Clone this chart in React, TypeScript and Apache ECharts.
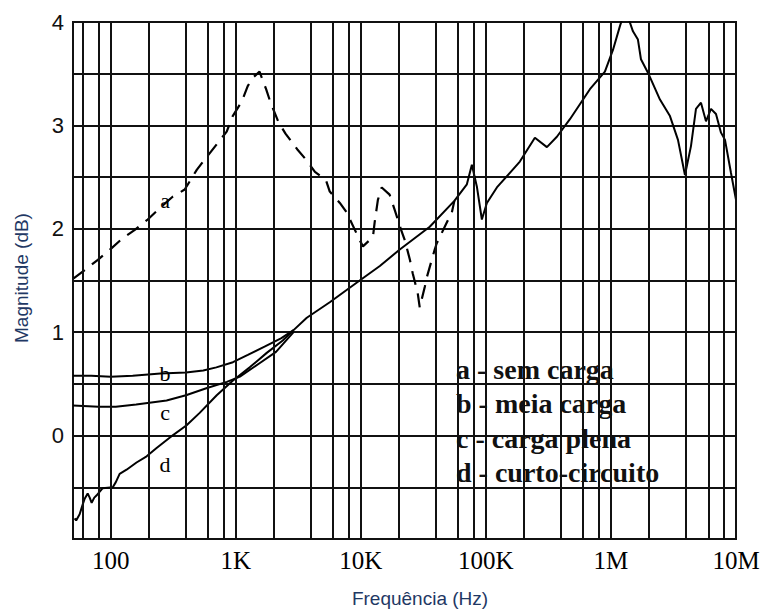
import React, { useEffect, useRef } from 'react';
import * as echarts from 'echarts';

// Curve a - sem carga (dashed)
const freqA = [50.6, 62, 79, 95, 125, 156, 198, 247, 313, 391, 488, 565, 718, 847, 946, 1117, 1247, 1368, 1550, 1750, 1900, 2200, 2500, 3100, 3700, 4300, 4900, 5300, 5650, 6800, 7700, 9800, 10400, 12500, 12900, 13700, 14700, 17000, 18700, 21000, 22500, 24700, 26000, 28500, 29600, 32500, 33700, 39000, 40500, 48700, 53500, 56000];
const magA = [1.52, 1.6, 1.7, 1.78, 1.91, 1.99, 2.09, 2.2, 2.31, 2.38, 2.57, 2.67, 2.83, 2.94, 3.09, 3.23, 3.38, 3.46, 3.52, 3.35, 3.22, 3.03, 2.92, 2.77, 2.66, 2.55, 2.5, 2.46, 2.36, 2.25, 2.16, 1.89, 1.83, 1.92, 2.06, 2.28, 2.4, 2.33, 2.18, 1.99, 1.89, 1.7, 1.57, 1.38, 1.24, 1.44, 1.53, 1.8, 1.86, 2.06, 2.16, 2.27];

// Curve b - meia carga
const freqB = [50, 70, 100, 150, 250, 400, 550, 700, 950, 1250, 1700, 2300, 2900];
const magB = [0.58, 0.58, 0.57, 0.58, 0.6, 0.61, 0.63, 0.66, 0.71, 0.78, 0.86, 0.94, 1.02];

// Curve c - carga plena
const freqC = [50, 80, 110, 160, 280, 400, 590, 850, 1080, 1550, 2100, 2900];
const magC = [0.29, 0.28, 0.28, 0.3, 0.34, 0.39, 0.46, 0.52, 0.57, 0.7, 0.81, 1.0];

// Curve d - curto-circuito (continues as the common curve up to 10M)
const freqD = [51.5, 53, 56.5, 60, 62, 65.5, 68, 70.5, 74, 77, 86, 104, 110, 118, 134, 161, 194, 233, 296, 405, 515, 705, 946, 1294, 1770, 2377, 2900, 3700, 5650, 9800, 14200, 20500, 35600, 56000, 70500, 77300, 84700, 92900, 101900, 122500, 187000, 246600, 307600, 369800, 470000, 679000, 895000, 1038000, 1180000, 1247000, 1368000, 1500000, 1644000, 1738000, 1977000, 2466000, 2965000, 3436000, 3908000, 4365000, 4786000, 5248000, 5754000, 6310000, 6918000, 7586000, 8166000, 9120000, 10000000];
const magD = [-0.8, -0.82, -0.76, -0.66, -0.61, -0.56, -0.6, -0.65, -0.6, -0.58, -0.51, -0.5, -0.45, -0.37, -0.33, -0.26, -0.2, -0.12, -0.02, 0.1, 0.22, 0.39, 0.53, 0.66, 0.8, 0.92, 1.02, 1.14, 1.29, 1.5, 1.64, 1.8, 2.02, 2.27, 2.43, 2.62, 2.41, 2.09, 2.25, 2.4, 2.65, 2.88, 2.79, 2.89, 3.06, 3.35, 3.52, 3.73, 3.96, 4.05, 4.05, 3.91, 3.83, 3.64, 3.51, 3.25, 3.09, 2.86, 2.52, 2.8, 3.16, 3.22, 3.04, 3.16, 3.11, 2.93, 2.86, 2.54, 2.28];

// Vertical grid lines (2, 4, 6, 8 x each decade and decades)
const gridFreqs = [60, 80, 100, 200, 400, 600, 800, 1e3, 2e3, 4e3, 6e3, 8e3, 1e4, 2e4, 4e4, 6e4, 8e4, 1e5, 2e5, 4e5, 6e5, 8e5, 1e6, 2e6, 4e6, 6e6, 8e6, 1e7];

const xTickValues = [100, 1e3, 1e4, 1e5, 1e6, 1e7];
const xTickLabels = ['100', '1K', '10K', '100K', '1M', '10M'];
const yTickValues = [0, 1, 2, 3, 4];

const legendLines = ['a - sem carga', 'b - meia carga', 'c - carga plena', 'd - curto-circuito'];
const curveLetters = ['a', 'b', 'c', 'd'];

const zip = (f: number[], m: number[]) => f.map((v, i) => [v, m[i]]);

export default function App() {
  const ref = useRef<HTMLDivElement>(null);
  useEffect(() => {
    document.body.style.margin = '0';
    const chart = echarts.init(ref.current!, null, { renderer: 'svg' });
    const curveStyle = { color: '#000', width: 2 };
    const letterPos = [[165, 200], [165, 373], [165, 412], [165, 464]];
    chart.setOption({
      animation: false,
      backgroundColor: '#fff',
      grid: {
        left: 73, top: 22, right: 30, bottom: 70,
        show: true, borderColor: '#111', borderWidth: 2,
        containLabel: false, outerBoundsMode: 'none',
      },
      xAxis: {
        type: 'log', logBase: 10, min: 50, max: 1e7,
        axisLine: { show: true, lineStyle: { color: '#111', width: 2 } },
        axisTick: { show: true, length: 5, lineStyle: { color: '#111', width: 2 } },
        splitLine: { show: false },
        axisLabel: {
          show: true, margin: 9, showMaxLabel: true, showMinLabel: true,
          color: '#000', fontFamily: 'Liberation Serif', fontSize: 25,
          formatter: (v: number) => {
            const i = xTickValues.findIndex(t => Math.abs(Math.log10(v) - Math.log10(t)) < 1e-6);
            return i >= 0 ? xTickLabels[i] : '';
          },
        },
      },
      yAxis: {
        type: 'value', min: -1, max: 4, interval: 0.5,
        axisLine: { show: false },
        axisTick: { show: false },
        splitLine: { show: true, lineStyle: { color: '#111', width: 2 } },
        axisLabel: {
          margin: 9, color: '#111', fontFamily: 'Liberation Sans', fontSize: 22,
          formatter: (v: number) => (yTickValues.includes(v) ? String(v) : ''),
        },
      },
      series: [
        {
          type: 'line', name: 'a', data: zip(freqA, magA), showSymbol: false,
          lineStyle: { color: '#000', width: 2.2, type: [14, 9] },
          markLine: {
            silent: true, symbol: 'none', label: { show: false },
            lineStyle: { color: '#111', width: 2, type: 'solid' },
            data: gridFreqs.map(f => ({ xAxis: f })),
          },
        },
        { type: 'line', name: 'b', data: zip(freqB, magB), showSymbol: false, lineStyle: curveStyle },
        { type: 'line', name: 'c', data: zip(freqC, magC), showSymbol: false, lineStyle: curveStyle },
        { type: 'line', name: 'd', data: zip(freqD, magD), showSymbol: false, lineStyle: curveStyle },
      ],
      graphic: [
        {
          type: 'text', x: 21, y: 278, rotation: Math.PI / 2,
          style: { text: 'Magnitude (dB)', fill: '#1F3864', font: '19px "Liberation Sans"', align: 'center', verticalAlign: 'middle' },
        },
        {
          type: 'text', x: 420, y: 598,
          style: { text: 'Frequência (Hz)', fill: '#1F3864', font: '19px "Liberation Sans"', align: 'center', verticalAlign: 'middle' },
        },
        ...legendLines.map((t, i) => ({
          type: 'text', x: 456, y: 369 + i * 34.5,
          style: { text: t, fill: '#111', font: 'bold 28px "Liberation Serif"', align: 'left', verticalAlign: 'middle' },
        })),
        ...curveLetters.map((t, i) => ({
          type: 'text', x: letterPos[i][0], y: letterPos[i][1],
          style: { text: t, fill: '#000', font: '22px "Liberation Serif"', align: 'center', verticalAlign: 'middle' },
        })),
      ],
    });
    return () => chart.dispose();
  }, []);
  return <div ref={ref} style={{ width: 766, height: 609 }} />;
}
